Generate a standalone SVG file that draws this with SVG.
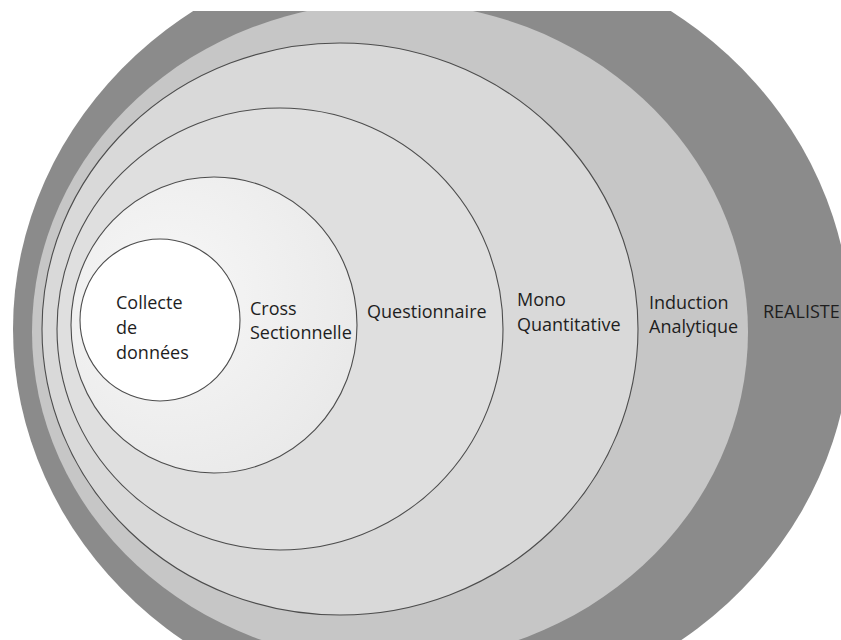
<svg xmlns="http://www.w3.org/2000/svg" width="841" height="640" viewBox="0 0 841 640">
  <style>
    .label { font-family: "Open Sans", "Noto Sans", "Liberation Sans", sans-serif; font-size: 18px; fill: #1e1e1e; }
    .ring-line { stroke: #4d4d4d; stroke-width: 1.1; }
  </style>
  <defs>
    <clipPath id="sheet">
      <rect x="0" y="11" width="841" height="629"/>
    </clipPath>
    <radialGradient id="crossFill" cx="0.35" cy="0.4" r="0.7">
      <stop offset="0" stop-color="#f7f7f7"/>
      <stop offset="1" stop-color="#e9e9e9"/>
    </radialGradient>
  </defs>

  <rect width="841" height="640" fill="#ffffff"/>

  <g clip-path="url(#sheet)">
    <!-- outermost layer: philosophy -->
    <g id="realiste">
      <ellipse cx="432" cy="329" rx="419" ry="387" fill="#8b8b8b"/>
      <text class="label" x="763" y="318" fill="#2a2a2a">REALISTE</text>
    </g>

    <!-- approach -->
    <g id="induction">
      <ellipse cx="390" cy="332" rx="358" ry="330" fill="#c6c6c6"/>
      <text class="label" x="649" y="309">Induction</text>
      <text class="label" x="649" y="333">Analytique</text>
    </g>

    <!-- methodological choice -->
    <g id="mono">
      <ellipse class="ring-line" cx="340" cy="329" rx="298" ry="286" fill="#d9d9d9"/>
      <text class="label" x="517" y="306">Mono</text>
      <text class="label" x="517" y="331">Quantitative</text>
    </g>

    <!-- strategy -->
    <g id="questionnaire">
      <ellipse class="ring-line" cx="280" cy="329" rx="223" ry="221" fill="#dfdfdf"/>
      <text class="label" x="367" y="318">Questionnaire</text>
    </g>

    <!-- time horizon -->
    <g id="cross">
      <ellipse class="ring-line" cx="214" cy="325" rx="143" ry="148" fill="url(#crossFill)"/>
      <text class="label" x="250" y="315">Cross</text>
      <text class="label" x="250" y="339">Sectionnelle</text>
    </g>

    <!-- core: techniques and procedures -->
    <g id="collecte">
      <ellipse class="ring-line" cx="160" cy="320" rx="80" ry="81" fill="#ffffff"/>
      <text class="label" x="116" y="309">Collecte</text>
      <text class="label" x="116" y="334">de</text>
      <text class="label" x="116" y="359">données</text>
    </g>
  </g>
</svg>
